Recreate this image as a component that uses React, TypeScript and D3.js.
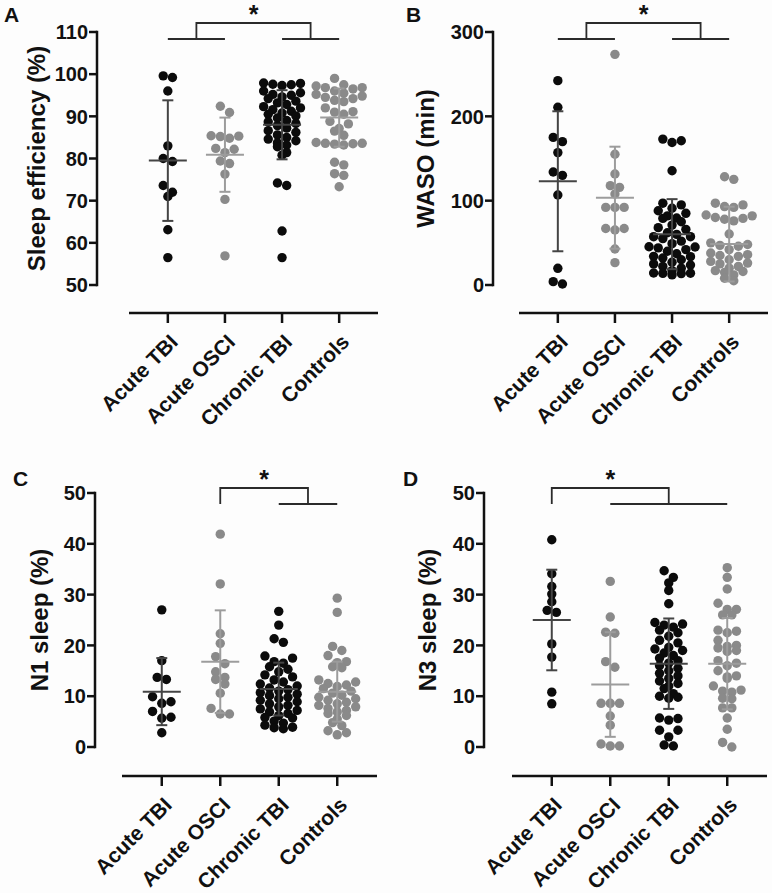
import React from 'react';
import * as d3 from 'd3';

// ---------- categories ----------
const categories = ['Acute TBI', 'Acute OSCI', 'Chronic TBI', 'Controls'];

// ---------- Panel A: Sleep efficiency (%) ----------
const seAcuteTBI = [99.2, 99.6, 96.0, 83.0, 79.3, 80.0, 73.6, 71.0, 72.0, 63.1, 56.5];
const seAcuteOSCI = [92.4, 90.9, 85.4, 85.2, 84.8, 85.3, 82.4, 82.2, 81.4, 78.8, 79.4, 76.3, 70.3, 56.9];
const seChronicTBI = [97.8, 97.6, 97.9, 97.5, 97.3, 96.0, 95.6, 95.2, 95.0, 94.6, 94.2, 93.6, 93.2, 92.8, 92.3, 92.0,
  91.6, 91.2, 90.8, 90.5, 90.1, 89.6, 89.0, 88.7, 88.3, 87.8, 87.2, 86.6, 86.2, 85.6, 85.0, 84.6, 84.2, 83.7, 83.2,
  82.8, 81.4, 80.8, 73.6, 74.2, 62.8, 56.5];
const seControls = [99.0, 97.5, 97.2, 96.8, 96.5, 96.8, 96.0, 95.5, 95.2, 94.8, 94.5, 94.2, 93.8, 93.5, 92.0, 91.1,
  91.0, 90.5, 88.8, 88.2, 87.1, 86.5, 85.5, 83.8, 83.6, 83.5, 83.4, 83.6, 83.2, 79.1, 78.5, 76.4, 76.0, 73.3];
const seMean = [79.5, 80.9, 88.0, 89.7];
const seSD = [14.3, 8.8, 8.2, 6.9];
const seTicks = [50, 60, 70, 80, 90, 100, 110];

// ---------- Panel B: WASO (min) ----------
const wasoAcuteTBI = [242.3, 210.7, 170, 175, 157, 130, 134, 106.7, 19.8, 1.2, 4];
const wasoAcuteOSCI = [273.5, 155, 131.6, 117.8, 115.8, 107.9, 92, 92, 92, 65.2, 67, 67, 42.7, 26.5];
const wasoChronicTBI = [169, 173, 171, 135.5, 97, 95, 91, 88, 85, 82, 79, 79.5, 75, 71, 68, 66, 62, 60, 57.3, 57.3,
  55, 52, 49, 45.4, 45, 44, 42, 40, 37, 33.6, 34, 32, 30, 27, 23.7, 25, 22, 20, 17, 13.8, 14, 13.5, 14.2, 12];
const wasoControls = [125.3, 128.4, 97, 95, 93, 92, 83, 82, 80, 79, 78, 76, 60.5, 50, 48, 47, 46, 42, 38, 36, 35, 34,
  30, 28, 26, 25, 22, 20, 17, 16, 15, 12, 8, 5];
const wasoMean = [123, 103.5, 60.3, 48.5];
const wasoSD = [83, 60.5, 41.5, 44.3];
const wasoTicks = [0, 100, 200, 300];

// ---------- Panel C: N1 sleep (%) ----------
const n1AcuteTBI = [27.0, 17.0, 13.3, 13.7, 9.9, 8.9, 8.6, 7.0, 5.65, 5.85, 2.8];
const n1AcuteOSCI = [41.9, 32.1, 22.3, 20.4, 17.8, 14.8, 16.4, 13.7, 12.4, 13.3, 10.6, 7.6, 6.5, 6.5];
const n1ChronicTBI = [26.7, 24.0, 21.3, 20.6, 17.9, 17.5, 16.8, 16.5, 15.8, 15.3, 14.8, 14.2, 13.8, 13.2, 12.8, 12.4,
  12.0, 11.6, 11.3, 11.0, 10.7, 10.4, 10.1, 9.8, 9.5, 9.2, 8.9, 8.5, 8.2, 7.9, 7.5, 7.2, 6.9, 6.6, 6.2, 5.8, 5.7,
  5.1, 4.7, 4.3, 3.9, 3.8, 3.6];
const n1Controls = [29.3, 26.5, 19.8, 19.0, 18.0, 16.8, 16.6, 15.8, 15.6, 13.2, 12.8, 12.5, 12.2, 11.9, 11.5, 11.0,
  10.6, 10.2, 9.8, 9.5, 9.2, 8.8, 8.5, 8.2, 7.9, 7.6, 7.2, 6.9, 6.6, 6.2, 5.5, 4.8, 4.2, 3.2, 2.8, 2.4];
const n1Mean = [10.9, 16.8, 11.4, 10.9];
const n1SD = [6.6, 10.1, 5.2, 5.9];
const pctTicks = [0, 10, 20, 30, 40, 50];

// ---------- Panel D: N3 sleep (%) ----------
const n3AcuteTBI = [40.8, 34.1, 31.6, 30.1, 28.6, 26.5, 26.9, 20.3, 17.7, 10.8, 8.5];
const n3AcuteOSCI = [32.6, 25.6, 22.4, 22.6, 16.8, 15.7, 8.6, 8.6, 8.6, 6.1, 4.3, 0.2, 0.6, 0.2];
const n3ChronicTBI = [34.7, 33.4, 32.3, 30.8, 28.2, 24.5, 24.2, 24.0, 23.6, 23.0, 22.5, 21.8, 21.0, 20.5, 19.6, 19.3,
  19.0, 18.5, 18.0, 17.5, 17.0, 16.5, 16.0, 15.5, 15.0, 14.5, 14.0, 13.5, 13.0, 12.5, 12.0, 11.5, 10.5, 10.0, 9.8,
  9.6, 5.3, 5.7, 5.6, 2.0, 3.3, 3.3, 0.2, 0.4];
const n3Controls = [35.3, 33.4, 31.1, 28.3, 27.1, 27.1, 26.0, 26.0, 23.0, 22.8, 22.5, 21.0, 20.0, 19.8, 19.5, 19.0,
  18.8, 17.0, 16.5, 16.0, 15.0, 14.0, 13.8, 13.5, 12.0, 11.2, 11.0, 10.8, 9.6, 9.5, 7.7, 7.7, 5.7, 3.5, 0.9, 0.0];
const n3Mean = [25.0, 12.3, 16.4, 16.4];
const n3SD = [9.9, 10.3, 8.9, 9.0];

// ---------- styling ----------
const FONT = "'Liberation Sans', Arial, Helvetica, sans-serif";
const dotColors = ['#0b0b0b', '#8a8a8a', '#0b0b0b', '#8a8a8a'];
const barColors = ['#444444', '#9c9c9c', '#444444', '#9c9c9c'];
const R = 4.7;

type Bracket = { left: number[]; right: number[]; top: number; bottom: number };
type PanelCfg = {
  letter: string; letterX: number; letterY: number;
  title: string; titleX: number;
  axisX: number; yRange: [number, number]; domain: [number, number]; ticks: number[];
  xRange: [number, number]; xAxisY: number;
  groups: number[][]; means: number[]; sds: number[];
  bracket: Bracket;
};

const panels: PanelCfg[] = [
  {
    letter: 'A', letterX: 4, letterY: 22, title: 'Sleep efficiency (%)', titleX: 45,
    axisX: 97, yRange: [285, 32], domain: [50, 110], ticks: seTicks,
    xRange: [129, 378], xAxisY: 313,
    groups: [seAcuteTBI, seAcuteOSCI, seChronicTBI, seControls], means: seMean, sds: seSD,
    bracket: { left: [0, 1], right: [2, 3], top: 23, bottom: 39 },
  },
  {
    letter: 'B', letterX: 406, letterY: 22, title: 'WASO (min)', titleX: 434,
    axisX: 493, yRange: [285, 32], domain: [0, 300], ticks: wasoTicks,
    xRange: [519, 768], xAxisY: 313,
    groups: [wasoAcuteTBI, wasoAcuteOSCI, wasoChronicTBI, wasoControls], means: wasoMean, sds: wasoSD,
    bracket: { left: [0, 1], right: [2, 3], top: 23, bottom: 39 },
  },
  {
    letter: 'C', letterX: 13, letterY: 486, title: 'N1 sleep (%)', titleX: 48,
    axisX: 95, yRange: [747, 493], domain: [0, 50], ticks: pctTicks,
    xRange: [122, 377], xAxisY: 776,
    groups: [n1AcuteTBI, n1AcuteOSCI, n1ChronicTBI, n1Controls], means: n1Mean, sds: n1SD,
    bracket: { left: [1], right: [2, 3], top: 488, bottom: 504 },
  },
  {
    letter: 'D', letterX: 403, letterY: 486, title: 'N3 sleep (%)', titleX: 436,
    axisX: 484, yRange: [747, 493], domain: [0, 50], ticks: pctTicks,
    xRange: [512, 767], xAxisY: 776,
    groups: [n3AcuteTBI, n3AcuteOSCI, n3ChronicTBI, n3Controls], means: n3Mean, sds: n3SD,
    bracket: { left: [0], right: [1, 2, 3], top: 488, bottom: 504 },
  },
];

// Prism-like row swarm: points close in value share a row, spread symmetrically
function swarm(values: number[], y: (v: number) => number) {
  const D = 2 * R;
  const pts = values.map((v) => ({ v, y: y(v) })).sort((a, b) => a.y - b.y);
  const rows: { v: number; y: number }[][] = [];
  let cur: { v: number; y: number }[] = [];
  for (const p of pts) {
    if (cur.length && p.y - cur[0].y >= D * 0.78) { rows.push(cur); cur = []; }
    cur.push(p);
  }
  if (cur.length) rows.push(cur);
  const out: { v: number; y: number; dx: number }[] = [];
  for (const row of rows) {
    const n = row.length;
    const slots = d3.range(n).map((i) => (i - (n - 1) / 2) * D * 0.98);
    row.forEach((p, i) => {
      const slot = i % 2 === 0 ? slots[Math.floor(i / 2)] : slots[n - 1 - Math.floor(i / 2)];
      out.push({ ...p, dx: slot });
    });
  }
  return out;
}

function Panel({ cfg }: { cfg: PanelCfg }) {
  const y = d3.scaleLinear().domain(cfg.domain).range(cfg.yRange);
  const x = d3.scalePoint<string>().domain(categories).range(cfg.xRange).padding(0.68);
  const cx = (i: number) => x(categories[i]) as number;
  const b = cfg.bracket;
  const sideX = (g: number[]) => (cx(g[0]) + cx(g[g.length - 1])) / 2;
  const lx = sideX(b.left);
  const rx = sideX(b.right);
  const titleY = (cfg.yRange[0] + cfg.yRange[1]) / 2;
  const bc = '#2b2b2b';
  return (
    <g>
      <text x={cfg.letterX} y={cfg.letterY} fontFamily={FONT} fontWeight="bold" fontSize={21} fill="#111">{cfg.letter}</text>
      {/* y axis */}
      <line x1={cfg.axisX} x2={cfg.axisX} y1={cfg.yRange[0] + 1.2} y2={cfg.yRange[1] - 1.2} stroke="#111" strokeWidth={2.5} />
      {cfg.ticks.map((t) => (
        <g key={t}>
          <line x1={cfg.axisX - 8} x2={cfg.axisX} y1={y(t)} y2={y(t)} stroke="#111" strokeWidth={2.5} />
          <text x={cfg.axisX - 9} y={y(t)} dy="0.36em" textAnchor="end" fontFamily={FONT} fontWeight="bold" fontSize={20} fill="#111">{t}</text>
        </g>
      ))}
      <text transform={`translate(${cfg.titleX},${titleY}) rotate(-90)`} textAnchor="middle" fontFamily={FONT} fontWeight="bold" fontSize={24} fill="#111">{cfg.title}</text>
      {/* x axis */}
      <line x1={cfg.xRange[0]} x2={cfg.xRange[1]} y1={cfg.xAxisY} y2={cfg.xAxisY} stroke="#111" strokeWidth={2.5} />
      {categories.map((c) => (
        <g key={c}>
          <line x1={x(c)} x2={x(c)} y1={cfg.xAxisY} y2={cfg.xAxisY + 10} stroke="#111" strokeWidth={2.5} />
          <text transform={`translate(${(x(c) as number) + 6},${cfg.xAxisY + 25}) rotate(-45)`} dy="0.36em" textAnchor="end" fontFamily={FONT} fontWeight="bold" fontSize={21} fill="#111">{c}</text>
        </g>
      ))}
      {/* dots */}
      {cfg.groups.map((vals, gi) => (
        <g key={gi}>
          {swarm(vals, y).map((p, k) => (
            <circle key={k} cx={cx(gi) + p.dx} cy={p.y} r={R} fill={dotColors[gi]} />
          ))}
        </g>
      ))}
      {/* mean ± SD */}
      {cfg.means.map((m, gi) => {
        const c = cx(gi);
        const top = y(m + cfg.sds[gi]);
        const bot = y(m - cfg.sds[gi]);
        return (
          <g key={gi} stroke={barColors[gi]} strokeWidth={2}>
            <line x1={c} x2={c} y1={top} y2={bot} />
            <line x1={c - 5.5} x2={c + 5.5} y1={top} y2={top} />
            <line x1={c - 5.5} x2={c + 5.5} y1={bot} y2={bot} />
            <line x1={c - 19} x2={c + 19} y1={y(m)} y2={y(m)} />
          </g>
        );
      })}
      {/* significance bracket */}
      <g stroke={bc} strokeWidth={1.8} fill="none">
        {b.left.length > 1 && <line x1={cx(b.left[0])} x2={cx(b.left[b.left.length - 1])} y1={b.bottom} y2={b.bottom} />}
        {b.right.length > 1 && <line x1={cx(b.right[0])} x2={cx(b.right[b.right.length - 1])} y1={b.bottom} y2={b.bottom} />}
        <path d={`M${lx},${b.bottom}V${b.top}H${rx}V${b.bottom}`} />
      </g>
      <text x={(lx + rx) / 2} y={b.top - 0.5} textAnchor="middle" fontFamily={FONT} fontWeight="bold" fontSize={25} fill="#111">*</text>
    </g>
  );
}

export default function App() {
  return (
    <svg width={772} height={893} style={{ position: 'absolute', left: 0, top: 0, background: '#fff' }}>
      <rect width={772} height={893} fill="#fdfdfd" />
      {panels.map((p) => (
        <Panel key={p.letter} cfg={p} />
      ))}
    </svg>
  );
}
